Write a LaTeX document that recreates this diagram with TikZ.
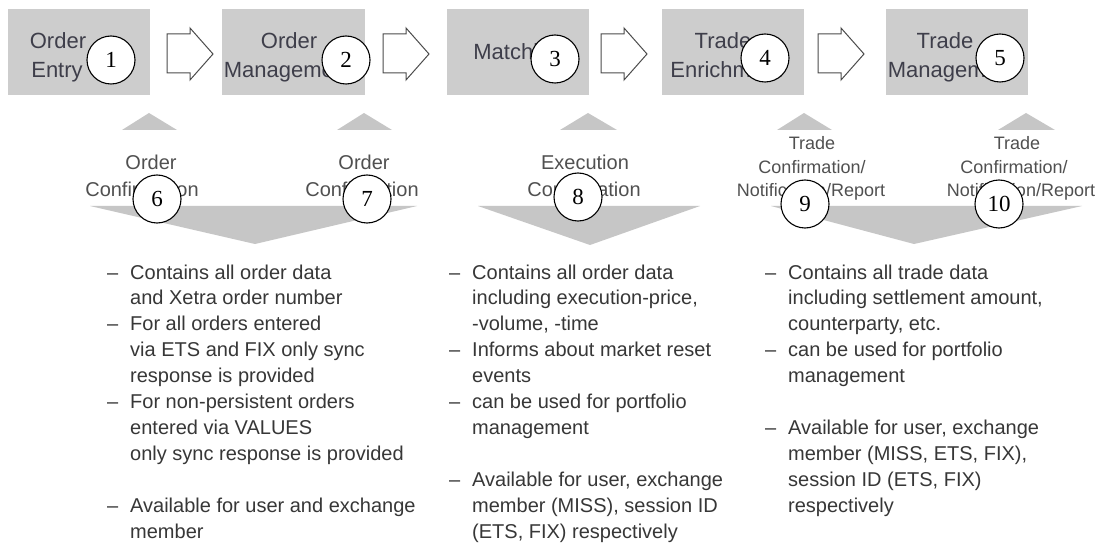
\documentclass[tikz,border=0pt]{standalone}
\usepackage{fontspec}
\setmainfont{Liberation Sans}
\newfontfamily\numfont{Liberation Serif}
\definecolor{boxgray}{RGB}{205,205,205}
\definecolor{shapegray}{RGB}{198,198,198}
\definecolor{txtdark}{RGB}{62,62,74}
\definecolor{lblgray}{RGB}{80,80,80}
\definecolor{bultxt}{RGB}{55,55,55}
\newcommand{\dsh}{\llap{\textendash\hspace{12pt}}}
\begin{document}
\begin{tikzpicture}[x=1pt,y=-1pt,
  box/.style={fill=boxgray,draw=none,minimum width=142pt,minimum height=86pt,inner sep=0pt},
  btxt/.style={font=\fontsize{22}{28}\selectfont,text=txtdark,anchor=base,inner sep=0pt},
  lbl/.style={font=\fontsize{20}{26}\selectfont,text=lblgray,anchor=base,inner sep=0pt},
  tlbl/.style={font=\fontsize{18}{24}\selectfont,text=lblgray,anchor=base,inner sep=0pt},
  num/.style={circle,draw=black,line width=1.1pt,fill=white,minimum size=48pt,inner sep=0pt,font=\numfont\fontsize{23}{23}\selectfont},
  bul/.style={font=\fontsize{20}{26}\selectfont,text=bultxt,anchor=base west,inner sep=0pt},
  hollow/.style={draw=black!70,line width=1pt,fill=white,line join=miter},
  tri/.style={fill=shapegray,draw=none}]
\useasboundingbox (0,0) rectangle (1099,545);
\fill[white] (0,0) rectangle (1099,545);

% process boxes
\node[box] (b1) at (79,52) {};
\node[box,minimum width=143pt] (b2) at (293.5,52) {};
\node[box] (b3) at (518,52) {};
\node[box] (b4) at (733,52) {};
\node[box] (b5) at (957,52) {};

% box texts
\node[btxt] (t1a) at (58,49) {Order};
\node[btxt] (t1b) at (57,78) {Entry};
\node[btxt] (t2a) at (289,49) {Order};
\node[btxt] (t2b) at (288,78) {Management};
\node[btxt] (t3a) at (518,60) {Matching};
\node[btxt] (t4a) at (723,49) {Trade};
\node[btxt] (t4b) at (726,78) {Enrichment};
\node[btxt] (t5a) at (945,49) {Trade};
\node[btxt] (t5b) at (952,78) {Management};

% hollow block arrows
\foreach \x [count=\i] in {167,383,601,818}{
  \draw[hollow] (\x,34) -- (\x+23,34) -- (\x+23,28) -- (\x+46,54) -- (\x+23,80) -- (\x+23,73) -- (\x,73) -- cycle;
}

% small up triangles
\fill[tri] (122,130) -- (177,130) -- (149,113) -- cycle;
\fill[tri] (337,130) -- (392,130) -- (364,113) -- cycle;
\fill[tri] (560,130) -- (617,130) -- (588,113) -- cycle;
\fill[tri] (777,130) -- (832,130) -- (804,113) -- cycle;
\fill[tri] (998,130) -- (1055,130) -- (1026,113) -- cycle;

% big down chevrons
\fill[tri] (90,206) -- (417,206) -- (255,244) -- cycle;
\fill[tri] (478,206) -- (700,206) -- (590,245) -- cycle;
\fill[tri] (771,206) -- (1082,206) -- (914,244) -- cycle;

% labels
\node[lbl] (l6a) at (151,170) {Order};
\node[lbl] (l6b) at (142,197) {Confirmation};
\node[lbl] (l7a) at (364,170) {Order};
\node[lbl] (l7b) at (362,197) {Confirmation};
\node[lbl] (l8a) at (585,170) {Execution};
\node[lbl] (l8b) at (584,197) {Confirmation};
\node[tlbl] (l9a) at (812,150) {Trade};
\node[tlbl] (l9b) at (812,173.5) {Confirmation/};
\node[tlbl] (l9c) at (811,197) {Notification/Report};
\node[tlbl] (l10a) at (1017,150) {Trade};
\node[tlbl] (l10b) at (1014,173.5) {Confirmation/};
\node[tlbl] (l10c) at (1021,197) {Notification/Report};

% bullet column 1
\node[bul] (c1a) at (130,279) {\dsh Contains all order data};
\node[bul] (c1b) at (130,304.9) {and Xetra order number};
\node[bul] (c1c) at (130,330.8) {\dsh For all orders entered};
\node[bul] (c1d) at (130,356.7) {via ETS and FIX only sync};
\node[bul] (c1e) at (130,382.6) {response is provided};
\node[bul] (c1f) at (130,408.5) {\dsh For non-persistent orders};
\node[bul] (c1g) at (130,434.4) {entered via VALUES};
\node[bul] (c1h) at (130,460.3) {only sync response is provided};
\node[bul] (c1i) at (130,512.1) {\dsh Available for user and exchange};
\node[bul] (c1j) at (130,538) {member};

% bullet column 2
\node[bul] (c2a) at (472,279) {\dsh Contains all order data};
\node[bul] (c2b) at (472,304.9) {including execution-price,};
\node[bul] (c2c) at (472,330.8) {-volume, -time};
\node[bul] (c2d) at (472,356.7) {\dsh Informs about market reset};
\node[bul] (c2e) at (472,382.6) {events};
\node[bul] (c2f) at (472,408.5) {\dsh can be used for portfolio};
\node[bul] (c2g) at (472,434.4) {management};
\node[bul] (c2h) at (472,486.2) {\dsh Available for user, exchange};
\node[bul] (c2i) at (472,512.1) {member (MISS), session ID};
\node[bul] (c2j) at (472,538) {(ETS, FIX) respectively};

% bullet column 3
\node[bul] (c3a) at (788,279) {\dsh Contains all trade data};
\node[bul] (c3b) at (788,304.9) {including settlement amount,};
\node[bul] (c3c) at (788,330.8) {counterparty, etc.};
\node[bul] (c3d) at (788,356.7) {\dsh can be used for portfolio};
\node[bul] (c3e) at (788,382.6) {management};
\node[bul] (c3f) at (788,434.4) {\dsh Available for user, exchange};
\node[bul] (c3g) at (788,460.3) {member (MISS, ETS, FIX),};
\node[bul] (c3h) at (788,486.2) {session ID (ETS, FIX)};
\node[bul] (c3i) at (788,512.1) {respectively};

% numbered circles
\node[num] (n1) at (111,60) {1};
\node[num] (n2) at (346,60) {2};
\node[num] (n3) at (555,59) {3};
\node[num] (n4) at (765,58) {4};
\node[num] (n5) at (1000,58) {5};
\node[num] (n6) at (157,199) {6};
\node[num] (n7) at (367,199) {7};
\node[num] (n8) at (578,197) {8};
\node[num] (n9) at (805,204) {9};
\node[num] (n10) at (999,204) {10};
\end{tikzpicture}
\end{document}
